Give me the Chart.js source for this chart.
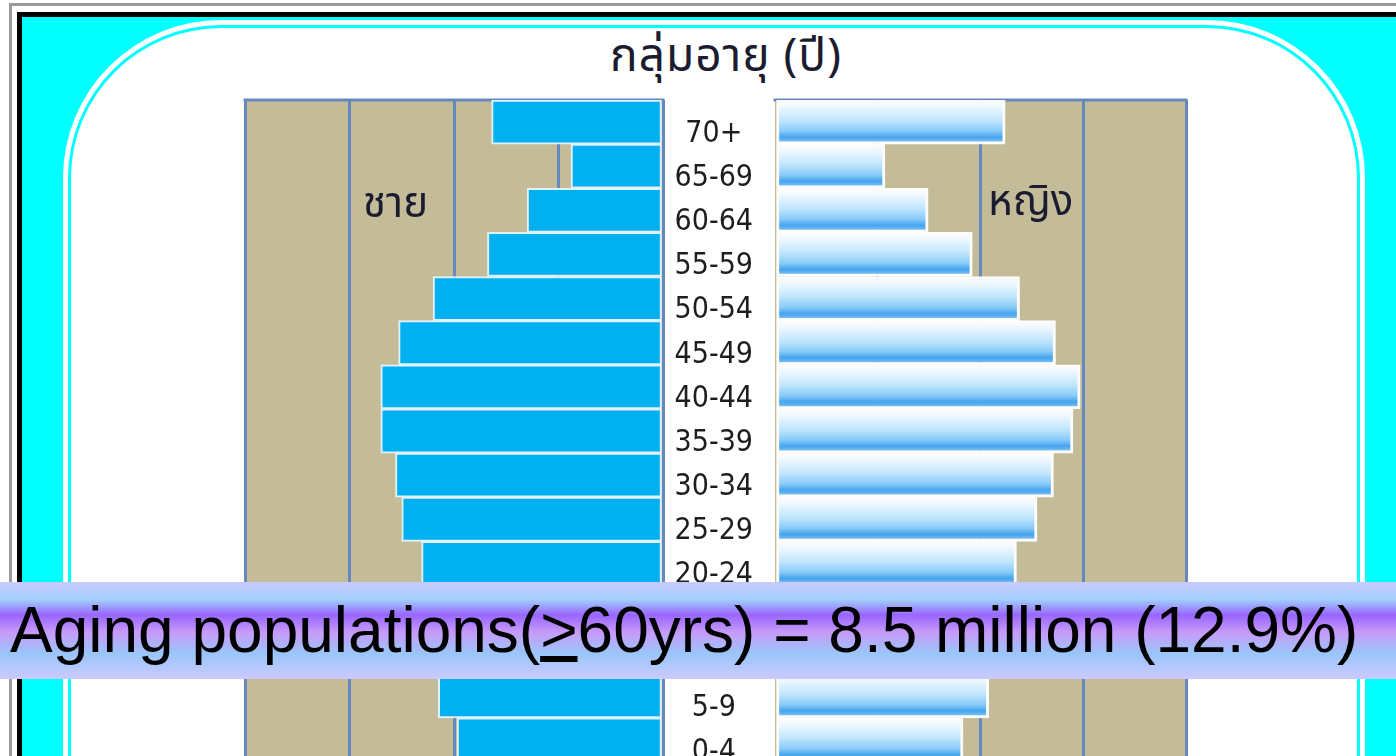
<!DOCTYPE html>
<html>
<head>
<meta charset="utf-8">
<script src="https://cdn.jsdelivr.net/npm/chart.js@4.4.1/dist/chart.umd.min.js"></script>
<style>
  html, body { margin: 0; padding: 0; }
  body {
    width: 1396px; height: 756px; overflow: hidden; position: relative; background: #fff;
    font-family: Tahoma, "Noto Sans Thai", "Noto Sans", "DejaVu Sans", sans-serif;
  }
  #greyline { position: absolute; left: 9px; top: 3px; width: 1500px; height: 900px;
    border-left: 3px solid #9a9a9a; border-top: 3px solid #9a9a9a; }
  #frame { position: absolute; left: 17px; top: 12px; width: 1500px; height: 900px;
    border-left: 5px solid #000; border-top: 5px solid #000; background: #00ffff; }
  #card { position: absolute; left: 71px; top: 28px; width: 1286px; height: 1000px;
    background: #fff; border-radius: 150px;
    box-shadow: 0 0 0 3px #00ffff, 0 0 0 8px #fff; }
  #title { position: absolute; left: 0; top: 31px; width: 1452px; text-align: center;
    font-size: 46px; letter-spacing: 1px; color: #1c1c30; line-height: 52px; }
  .side { position: absolute; font-size: 42px; color: #1c1c30; line-height: 48px; }
  #maleBox { position: absolute; left: 243px; top: 98px; width: 422px; height: 664px; }
  #femaleBox { position: absolute; left: 660px; top: 98px; width: 540px; height: 664px; }
  #banner { position: absolute; left: 0; top: 582px; width: 1386px; height: 97px; padding-left: 10px;
    background: linear-gradient(to bottom, #c9c9ff 0%, #a0d0fb 18%, #9966ff 34%, #c79bf9 52%, #99c6f9 74%, #cccaff 100%);
    font-family: "Liberation Sans", Arial, sans-serif; font-size: 64px; line-height: 97px;
    white-space: nowrap; color: #000; }
</style>
</head>
<body>
<div id="greyline"></div>
<div id="frame"></div>
<div id="card"></div>
<div id="title">กลุ่มอายุ (ปี)</div>
<div id="maleBox"><canvas id="male"></canvas></div>
<div id="femaleBox"><canvas id="female"></canvas></div>
<div class="side" style="left:363px; top:180px;">ชาย</div>
<div class="side" style="left:988px; top:178px;">หญิง</div>
<div id="banner">Aging populations(<u>&gt;</u>60yrs) = 8.5 million (12.9%)</div>

<script>
// population by age group, millions
const ageGroups = ['70+', '65-69', '60-64', '55-59', '50-54', '45-49', '40-44', '35-39',
                   '30-34', '25-29', '20-24', '15-19', '10-14', '5-9', '0-4'];
const malePop   = [1.64, 0.88, 1.30, 1.68, 2.20, 2.53, 2.70, 2.70, 2.56, 2.50, 2.31, 2.48, 2.40, 2.15, 1.97];
const femalePop = [2.24, 1.07, 1.49, 1.92, 2.38, 2.73, 2.97, 2.90, 2.71, 2.55, 2.35, 2.74, 2.62, 2.08, 1.83];
const axisMax = 4;

const tan = '#c4bc98';
const gridBlue = '#6788bf';

const plotBg = {
  id: 'plotBg',
  beforeDraw(chart) {
    const {ctx, chartArea: a} = chart;
    ctx.save();
    ctx.fillStyle = tan;
    ctx.fillRect(a.left, a.top, a.width, a.height);
    ctx.restore();
  },
  beforeDatasetsDraw(chart) {
    const {ctx, chartArea: a} = chart;
    ctx.save();
    ctx.strokeStyle = gridBlue;
    ctx.lineWidth = 3;
    ctx.beginPath();
    ctx.moveTo(a.left - 1.5, a.top);
    ctx.lineTo(a.right + 1.5, a.top);
    ctx.stroke();
    ctx.restore();
  }
};

function femaleFill(c) {
  const ys = c.chart.scales.y;
  if (!ys || c.dataIndex === undefined || !ys.height) return '#8ccbf5';
  const half = ys.height / ageGroups.length / 2;
  const yc = ys.getPixelForValue(c.dataIndex);
  const g = c.chart.ctx.createLinearGradient(0, yc - half, 0, yc + half);
  g.addColorStop(0, '#ffffff');
  g.addColorStop(0.15, '#eef8ff');
  g.addColorStop(0.45, '#c2e7fd');
  g.addColorStop(0.7, '#88cbf8');
  g.addColorStop(0.84, '#45a4ee');
  g.addColorStop(0.93, '#70baf2');
  g.addColorStop(1, '#ffffff');
  return g;
}

new Chart(document.getElementById('male'), {
  type: 'bar',
  data: {
    labels: ageGroups,
    datasets: [{
      label: 'ชาย',
      data: malePop,
      backgroundColor: '#00b0f0',
      borderColor: '#e2f2fb',
      borderWidth: 2,
      borderSkipped: false,
      barPercentage: 1,
      categoryPercentage: 1
    }]
  },
  options: {
    indexAxis: 'y',
    responsive: true,
    maintainAspectRatio: false,
    animation: false,
    layout: { padding: { left: 2, right: 2, top: 2, bottom: 0 } },
    plugins: { legend: { display: false }, tooltip: { enabled: false } },
    scales: {
      x: { reverse: true, min: 0, max: axisMax, ticks: { display: false, stepSize: 1 },
           grid: { color: gridBlue, lineWidth: 3, drawTicks: false }, border: { display: false } },
      y: { display: false }
    }
  },
  plugins: [plotBg]
});

new Chart(document.getElementById('female'), {
  type: 'bar',
  data: {
    labels: ageGroups,
    datasets: [{
      label: 'หญิง',
      data: femalePop,
      backgroundColor: femaleFill,
      borderColor: 'rgba(255,255,255,0.95)',
      borderWidth: 3,
      borderSkipped: false,
      barPercentage: 1,
      categoryPercentage: 1
    }]
  },
  options: {
    indexAxis: 'y',
    responsive: true,
    maintainAspectRatio: false,
    animation: false,
    layout: { padding: { left: 0, right: 14, top: 2, bottom: 0 } },
    plugins: { legend: { display: false }, tooltip: { enabled: false } },
    scales: {
      x: { min: 0, max: axisMax, ticks: { display: false, stepSize: 1 },
           grid: {
             color: (c) => (c.tick && c.tick.value === 0 ? 'rgba(0,0,0,0)' : gridBlue),
             lineWidth: 3, drawTicks: false
           },
           border: { display: false } },
      y: {
        position: 'left',
        grid: { display: false, drawTicks: false },
        border: { display: false },
        ticks: {
          autoSkip: false,
          crossAlign: 'center',
          padding: 22,
          labelOffset: 12,
          color: '#1e1e1e',
          font: { family: '"DejaVu Sans Condensed", "DejaVu Sans", sans-serif', size: 30 }
        },
        afterFit(scale) {
          scale.width = 115;
          scale.paddingTop = 0;
          scale.paddingBottom = 0;
        }
      }
    }
  },
  plugins: [plotBg]
});
</script>
</body>
</html>
